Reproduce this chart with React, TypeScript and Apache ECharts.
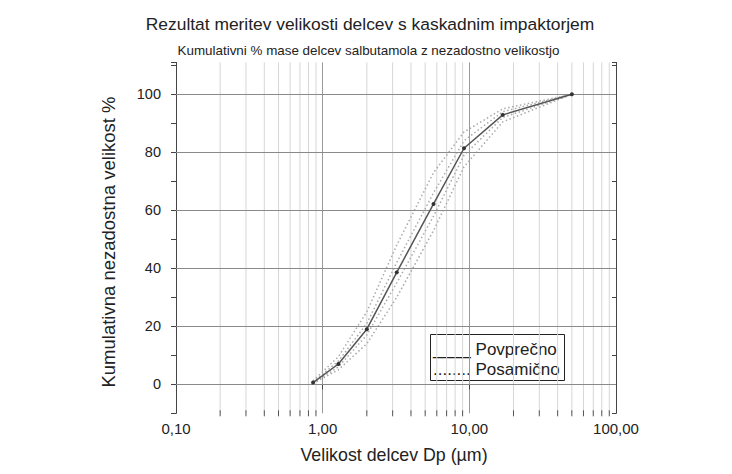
import React, { useEffect, useRef } from "react";
import * as echarts from "echarts";

// Cut-off diameters (µm) of the impactor stages
const xStages = [0.86, 1.28, 2.0, 3.2, 5.7, 9.2, 16.9, 50];
// Average cumulative %
const avgY = [0.6, 7, 19, 38.6, 62.2, 81.4, 92.9, 100];
// Individual runs (dotted)
const run1 = [1.2, 9.5, 25, 48, 73, 87, 95, 100];
const run2 = [0.8, 8, 21, 42, 66, 84, 94, 100];
const run3 = [0.4, 6, 17, 35, 58, 79, 92, 100];
const run4 = [0.3, 5, 14, 30, 53, 75, 90.5, 100];
const runs = [run1, run2, run3, run4];

const yMajor = [0, 20, 40, 60, 80, 100];
const xMinor = [
  0.2, 0.3, 0.4, 0.5, 0.6, 0.7, 0.8, 0.9,
  2, 3, 4, 5, 6, 7, 8, 9,
  20, 30, 40, 50, 60, 70, 80, 90,
];

const FONT = "'Liberation Sans', Arial, sans-serif";

export default function App() {
  const ref = useRef<HTMLDivElement>(null);
  useEffect(() => {
    document.body.style.margin = "0";
    const chart = echarts.init(ref.current!, null, { renderer: "svg" });
    const pairs = (ys: number[]) => xStages.map((x, i) => [x, ys[i]]);
    const option: any = {
      animation: false,
      textStyle: { fontFamily: FONT },
      title: [
        {
          text: "Rezultat meritev velikosti delcev s kaskadnim impaktorjem",
          left: 365,
          top: 10,
          textAlign: "center",
          textStyle: { fontSize: 17.4, fontWeight: "normal", color: "#222", fontFamily: FONT },
        },
        {
          text: "Kumulativni % mase delcev salbutamola z nezadostno velikostjo",
          left: 363.5,
          top: 39,
          textAlign: "center",
          textStyle: { fontSize: 13.4, fontWeight: "normal", color: "#222", fontFamily: FONT },
        },
      ],
      grid: { left: 176, right: 116, top: 62.4, bottom: 60.7 },
      xAxis: {
        type: "log",
        logBase: 10,
        min: 0.1,
        max: 100,
        axisLine: { show: true, lineStyle: { color: "#444", width: 1 } },
        axisTick: { show: true, length: 5, lineStyle: { color: "#444" } },
        axisLabel: {
          formatter: (v: number) => Number(v).toFixed(2).replace(".", ","),
          fontSize: 15,
          color: "#222",
          margin: 8,
          fontFamily: FONT,
        },
        splitLine: { show: true, lineStyle: { color: "#999", width: 1 } },
      },
      yAxis: [
        {
          type: "value",
          min: -10,
          max: 111,
          interval: 10,
          axisLine: { show: true, lineStyle: { color: "#444", width: 1 } },
          axisTick: { show: true, length: 5, lineStyle: { color: "#444" } },
          axisLabel: {
            formatter: (v: number) =>
              v >= 0 && v <= 100 && Math.round(v) % 20 === 0 ? String(v) : "",
            fontSize: 14.5,
            color: "#222",
            margin: 15,
            fontFamily: FONT,
          },
          splitLine: { show: false },
        },
        {
          type: "value",
          position: "right",
          min: -10,
          max: 111,
          interval: 10,
          axisLine: { show: true, lineStyle: { color: "#444", width: 1 } },
          axisTick: { show: true, inside: true, length: 4, lineStyle: { color: "#444" } },
          axisLabel: { show: false },
          splitLine: { show: false },
        },
      ],
      series: [
        {
          type: "custom",
          z: 1,
          clip: false,
          silent: true,
          data: xMinor.map((v) => [v, 0]),
          renderItem: (params: any, api: any) => {
            const x = api.coord([api.value(0), 0])[0];
            const cs = params.coordSys;
            const top = cs.y;
            const bottom = cs.y + cs.height;
            return {
              type: "group",
              children: [
                {
                  type: "line",
                  shape: { x1: x, y1: top, x2: x, y2: bottom },
                  style: { stroke: "#d6d6d6", lineWidth: 1 },
                },
                {
                  type: "line",
                  shape: { x1: x, y1: bottom - 3, x2: x, y2: bottom + 3 },
                  style: { stroke: "#555", lineWidth: 1 },
                },
              ],
            };
          },
          markLine: {
            silent: true,
            symbol: "none",
            label: { show: false },
            lineStyle: { color: "#8a8a8a", type: "solid", width: 1 },
            data: yMajor.map((v) => ({ yAxis: v })),
          },
        },
        ...runs.map((r, i) => ({
          type: "line",
          name: "Posamično " + (i + 1),
          z: 3,
          data: pairs(r),
          symbol: "none",
          lineStyle: { color: "#aaaaaa", width: 1.5, type: [1.5, 2.5] },
        })),
        {
          type: "line",
          name: "Povprečno",
          z: 5,
          data: pairs(avgY),
          symbol: "circle",
          symbolSize: 4,
          itemStyle: { color: "#333" },
          lineStyle: { color: "#555", width: 1.5 },
        },
      ],
      graphic: [
        {
          type: "text",
          x: 108,
          y: 242,
          rotation: Math.PI / 2,
          style: {
            text: "Kumulativna nezadostna velikost %",
            font: `18.5px ${FONT}`,
            fill: "#222",
            align: "center",
            verticalAlign: "middle",
          },
        },
        {
          type: "text",
          x: 394,
          y: 455,
          style: {
            text: "Velikost delcev Dp (µm)",
            font: `17.8px ${FONT}`,
            fill: "#222",
            align: "center",
            verticalAlign: "middle",
          },
        },
        {
          type: "group",
          z: 10,
          children: [
            {
              type: "rect",
              shape: { x: 430.5, y: 334.5, width: 134, height: 46 },
              style: { fill: "#fff", stroke: "#222", lineWidth: 1 },
            },
            {
              type: "text",
              x: 433,
              y: 349,
              style: {
                text: "____ Povprečno",
                font: `17px ${FONT}`,
                fill: "#222",
                align: "left",
                verticalAlign: "middle",
              },
            },
            {
              type: "text",
              x: 433,
              y: 369,
              style: {
                text: "........ Posamično",
                font: `17px ${FONT}`,
                fill: "#222",
                align: "left",
                verticalAlign: "middle",
              },
            },
          ],
        },
      ],
    };
    chart.setOption(option);
    return () => chart.dispose();
  }, []);
  return <div ref={ref} style={{ width: 732, height: 474 }} />;
}
